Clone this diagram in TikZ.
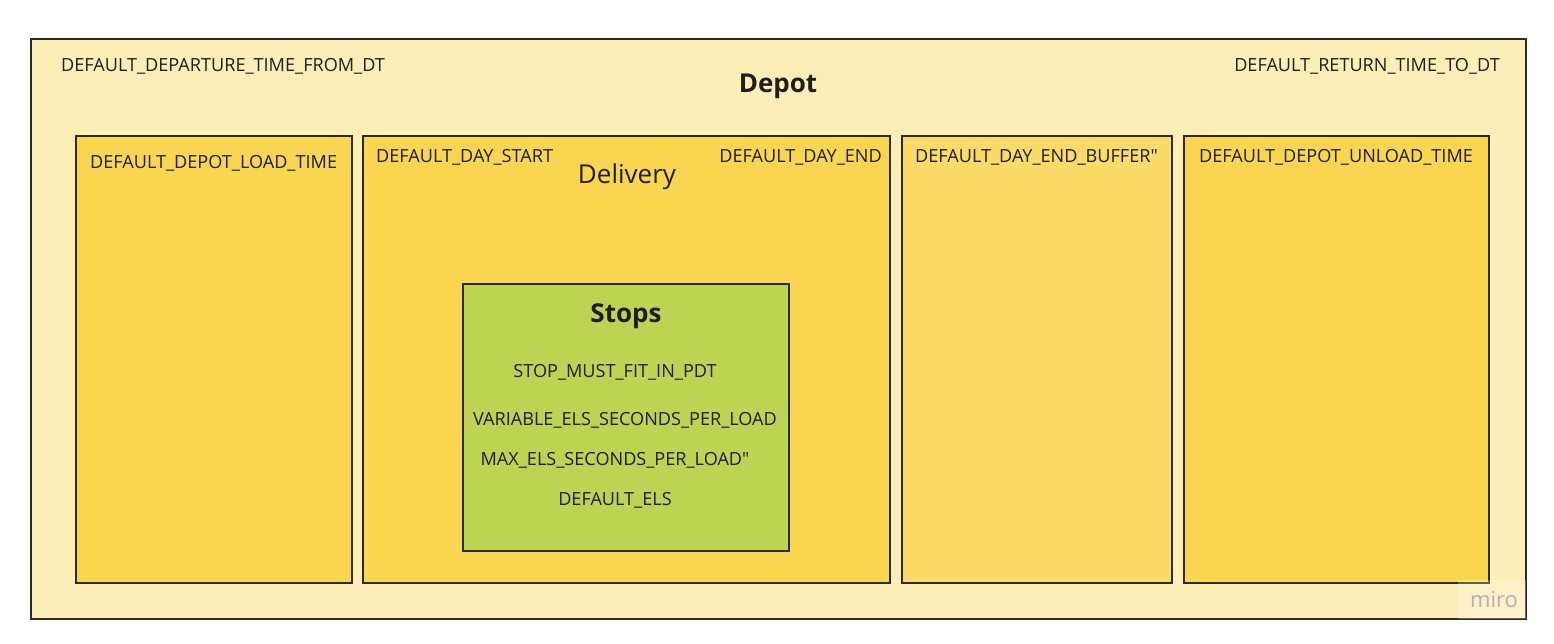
\documentclass[tikz,border=0pt]{standalone}
\usepackage{fontspec}
\setmainfont{Open Sans}
\definecolor{depotfill}{HTML}{FDEDB6}
\definecolor{yel}{HTML}{FAD550}
\definecolor{yellite}{HTML}{FADB68}
\definecolor{stopgreen}{HTML}{BDD352}
\definecolor{edge}{HTML}{2B2B22}
\definecolor{txt}{HTML}{1E1E1E}
\tikzset{
  frame/.style={draw=edge, line width=1.2pt},
  lbl/.style={inner sep=0pt, text=txt, font=\fontsize{18.1}{20}\selectfont},
  ttl/.style={inner sep=0pt, text=txt, font=\fontsize{26}{28}\selectfont},
  bttl/.style={inner sep=0pt, text=txt, font=\fontsize{26}{28}\selectfont\bfseries},
}
\begin{document}
\begin{tikzpicture}[x=1pt,y=-1pt]
\useasboundingbox[fill=white] (0,0) rectangle (1554,643);
% depot
\draw[frame, fill=depotfill] (31,39) rectangle (1526,619);
\node[bttl] (depot) at (778,86) {Depot};
\node[lbl, anchor=west] (dep) at (61,66) {DEFAULT\_DEPARTURE\_TIME\_FROM\_DT};
\node[lbl, anchor=east] (ret) at (1500,66) {DEFAULT\_RETURN\_TIME\_TO\_DT};
% inner boxes
\draw[frame, fill=yel] (76,136) rectangle (352,583);
\node[lbl, anchor=west] (load) at (90,163) {DEFAULT\_DEPOT\_LOAD\_TIME};
\draw[frame, fill=yel] (363,136) rectangle (890,583);
\node[ttl] (delivery) at (627,177) {Delivery};
\node[lbl, anchor=west] (dstart) at (376,157) {DEFAULT\_DAY\_START};
\node[lbl, anchor=east] (dend) at (882,157) {DEFAULT\_DAY\_END};
\draw[frame, fill=yellite] (902,136) rectangle (1172,583);
\node[lbl, anchor=west] (buf) at (915,157) {DEFAULT\_DAY\_END\_BUFFER\textquotedbl};
\draw[frame, fill=yel] (1184,136) rectangle (1489,583);
\node[lbl, anchor=west] (unload) at (1199,157) {DEFAULT\_DEPOT\_UNLOAD\_TIME};
% stops
\draw[frame, fill=stopgreen] (463,284) rectangle (789,551);
\node[bttl] (stops) at (626,316) {Stops};
\node[lbl] (s1) at (615,372) {STOP\_MUST\_FIT\_IN\_PDT};
\node[lbl] (s2) at (625,420) {VARIABLE\_ELS\_SECONDS\_PER\_LOAD};
\node[lbl] (s3) at (615,460) {MAX\_ELS\_SECONDS\_PER\_LOAD\textquotedbl};
\node[lbl] (s4) at (615,500) {DEFAULT\_ELS};
% watermark
\fill[white, opacity=0.25] (1458,580) rectangle (1526,619);
\node[inner sep=0pt, text=black!30, font=\fontsize{22}{24}\selectfont] (miro) at (1494,600) {miro};
\end{tikzpicture}
\end{document}
